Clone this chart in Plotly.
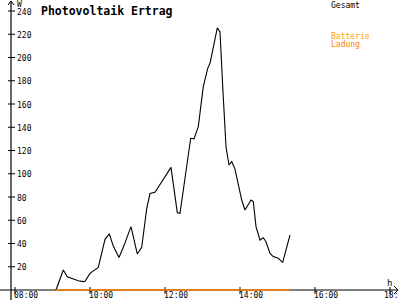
import plotly.graph_objects as go

# ---- data (hours as decimal, watts) ----
gesamt_hours = [9.093, 9.288, 9.395, 9.52, 9.688, 9.821, 9.867, 10.0, 10.133, 10.221,
                10.4, 10.515, 10.621, 10.773, 10.888, 11.093, 11.261, 11.379, 11.512, 11.6,
                11.733, 12.16, 12.328, 12.4, 12.685, 12.773, 12.888, 13.021, 13.139, 13.2,
                13.395, 13.467, 13.539, 13.627, 13.707, 13.779, 13.867, 14.045, 14.133, 14.221,
                14.293, 14.355, 14.427, 14.533, 14.621, 14.693, 14.8, 14.888, 15.021, 15.139,
                15.333]
gesamt_watts = [0, 17.2, 11.4, 10, 8, 7.2, 7.5, 14.3, 17.2, 19.5,
                43.6, 48.2, 37.8, 28, 36.7, 54.5, 31, 36.7, 70, 83,
                84, 105.5, 66.5, 66, 130.5, 130, 140.5, 175, 190.7, 195,
                225.5, 222, 175, 123, 107.5, 110.4, 104, 77.4, 68.8, 73,
                77.4, 76, 54.5, 43, 45, 41.5, 31.5, 28.7, 27.3, 23.8,
                47.3]
ladung_hours = [9.093, 15.333]
ladung_watts = [0, 0]

x_ticks = [8, 10, 12, 14, 16, 18]
x_tick_labels = ["08:00", "10:00", "12:00", "14:00", "16:00", "18:"]
y_ticks = [20, 40, 60, 80, 100, 120, 140, 160, 180, 200, 220, 240]

# ---- pixel scale helpers (plot area = full 400x300) ----
PX_PER_H = 37.5
PX_PER_W = 1.1625
X0 = 8 - 15 / PX_PER_H            # hour at pixel x=0
Y_TOP = 290 / PX_PER_W            # value at pixel y=0
Y_BOT = -10 / PX_PER_W            # value at pixel y=300

def hx(px):
    return X0 + px / PX_PER_H

def wy(py):
    return (290 - py) / PX_PER_W

FONT = "DejaVu Sans Mono"
ORANGE = "#ff8000"

fig = go.Figure()
fig.add_trace(go.Scatter(x=gesamt_hours, y=gesamt_watts, mode="lines",
                         line=dict(color="black", width=1.1), name="Gesamt",
                         showlegend=False))
fig.add_trace(go.Scatter(x=ladung_hours, y=ladung_watts, mode="lines",
                         line=dict(color=ORANGE, width=1.6), name="Ladung",
                         showlegend=False))

shapes = []
def seg(x0, y0, x1, y1, w=1.0):
    shapes.append(dict(type="line", xref="x", yref="y", x0=x0, x1=x1, y0=y0, y1=y1,
                       layer="below", line=dict(color="black", width=w)))

# axes
seg(hx(0), 0, hx(398), 0, 1.2)
seg(hx(11), wy(300), hx(11), wy(1), 1.2)
# arrows
seg(hx(11), wy(1), hx(8), wy(5))
seg(hx(11), wy(1), hx(14), wy(5))
seg(hx(398), 0, hx(394), wy(286))
seg(hx(398), 0, hx(394), wy(294))
# ticks
for t in x_ticks:
    seg(t, wy(287), t, wy(294))
for v in y_ticks:
    seg(hx(8), v, hx(15), v)

ann = []
for t, lab in zip(x_ticks, x_tick_labels):
    if lab == "18:":
        ann.append(dict(x=hx(400), y=wy(295), xref="x", yref="y", text=lab, showarrow=False,
                        xanchor="right", yanchor="middle",
                        font=dict(family=FONT, size=8, color="black")))
    else:
        ann.append(dict(x=t, y=wy(295), xref="x", yref="y", text=lab, showarrow=False,
                        xanchor="left", yanchor="middle", xshift=-3,
                        font=dict(family=FONT, size=8, color="black")))
for v in y_ticks:
    ann.append(dict(x=hx(15), y=v, xref="x", yref="y", text=str(v), showarrow=False,
                    xanchor="left", yanchor="middle", yshift=-1,
                    font=dict(family=FONT, size=8, color="black")))
ann.append(dict(x=hx(15), y=wy(4), xref="x", yref="y", text="W", showarrow=False,
                xanchor="left", yanchor="middle", font=dict(family=FONT, size=8, color="black")))
ann.append(dict(x=hx(385), y=wy(283), xref="x", yref="y", text="h", showarrow=False,
                xanchor="left", yanchor="middle", font=dict(family=FONT, size=9, color="black")))
ann.append(dict(x=hx(39), y=wy(11), xref="x", yref="y", text="<b>Photovoltaik Ertrag</b>",
                showarrow=False, xanchor="left", yanchor="middle",
                font=dict(family=FONT, size=11.5, color="black")))
ann.append(dict(x=hx(329), y=wy(5), xref="x", yref="y", text="Gesamt", showarrow=False,
                xanchor="left", yanchor="middle", font=dict(family=FONT, size=8, color="black")))
ann.append(dict(x=hx(329), y=wy(36), xref="x", yref="y", text="Batterie", showarrow=False,
                xanchor="left", yanchor="middle", font=dict(family=FONT, size=8, color="#ffa500")))
ann.append(dict(x=hx(329), y=wy(44), xref="x", yref="y", text="Ladung", showarrow=False,
                xanchor="left", yanchor="middle", font=dict(family=FONT, size=8, color=ORANGE)))

fig.update_layout(
    width=400, height=300, margin=dict(l=0, r=0, t=0, b=0),
    paper_bgcolor="white", plot_bgcolor="white",
    xaxis=dict(range=[X0, X0 + 400 / PX_PER_H], visible=False, fixedrange=True),
    yaxis=dict(range=[Y_BOT, Y_TOP], visible=False, fixedrange=True),
    shapes=shapes, annotations=ann, showlegend=False,
)

fig.write_html("out.html")
